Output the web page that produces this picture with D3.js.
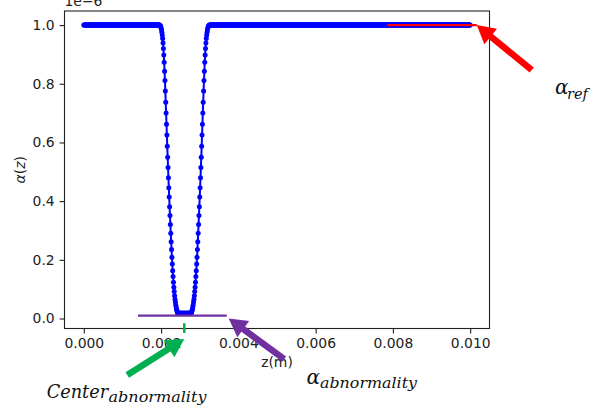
<!DOCTYPE html>
<html>
<head>
<meta charset="utf-8">
<script src="https://cdn.jsdelivr.net/npm/d3@7"></script>
<style>
  html, body { margin: 0; padding: 0; background: #fff; }
  svg { display: block; }
</style>
</head>
<body>
<svg id="chart" width="592" height="414"></svg>
<script>
// alpha(z) sampled every 10 µm from z = 0 to 0.01 m, values in units of 1e-6
const zStep = 1e-5;
const zMax = 0.01;
const refLevel = 1.0;
const leadingPlateauCount = 197;
const leftWall = [0.999, 0.9975, 0.9945, 0.990, 0.984, 0.976, 0.966, 0.954, 0.939, 0.920,
                  0.898, 0.873, 0.843, 0.811, 0.775, 0.737, 0.700, 0.662, 0.625, 0.587,
                  0.550, 0.515, 0.480, 0.446, 0.414, 0.381, 0.351, 0.320, 0.291, 0.262,
                  0.235, 0.209, 0.186, 0.163, 0.143, 0.124, 0.107, 0.092, 0.078, 0.066,
                  0.056, 0.046, 0.039, 0.032, 0.027, 0.022];
const floorCount = 36;
const floorLevel = 0.018;
const rightWall = [0.022, 0.027, 0.032, 0.039, 0.046, 0.056, 0.066, 0.078, 0.092, 0.107,
                   0.124, 0.143, 0.163, 0.186, 0.209, 0.235, 0.262, 0.291, 0.320, 0.351,
                   0.381, 0.414, 0.446, 0.480, 0.515, 0.550, 0.587, 0.625, 0.662, 0.700,
                   0.737, 0.775, 0.811, 0.843, 0.873, 0.898, 0.920, 0.939, 0.954, 0.966,
                   0.976, 0.984, 0.990, 0.9945, 0.9975, 0.999];

// reference level segment, abnormality level segment and abnormality centre
const refSegment = [0.00786, 0.01017];
const abnormalityLevel = 0.01;
const abnormalitySegment = [0.0014, 0.0037];
const centerZ = 0.0026;

const xTicks = [0, 0.002, 0.004, 0.006, 0.008, 0.010];
const yTicks = [0, 0.2, 0.4, 0.6, 0.8, 1.0];
const xDomain = [-0.0005, 0.0105];
const yDomain = [-0.034, 1.048];

// assemble the sampled series
const alpha = [];
for (let i = 0; i < leadingPlateauCount; i++) alpha.push(refLevel);
leftWall.forEach(v => alpha.push(v));
for (let i = 0; i < floorCount; i++) alpha.push(floorLevel);
rightWall.forEach(v => alpha.push(v));
while ((alpha.length) * zStep <= zMax + zStep / 2) alpha.push(refLevel);
const points = alpha.map((a, i) => ({ z: i * zStep, a }));

const svg = d3.select("#chart");
const plot = { left: 64.5, right: 489.5, top: 11, bottom: 328.5 };

const x = d3.scaleLinear().domain(xDomain).range([plot.left, plot.right]);
const y = d3.scaleLinear().domain(yDomain).range([plot.bottom, plot.top]);

const tickFont = "DejaVu Sans, sans-serif";
const tickSize = 13.9;

// axes
const xAxis = d3.axisBottom(x).tickValues(xTicks).tickFormat(d3.format(".3f"))
  .tickSize(4.9).tickPadding(4.9).tickSizeOuter(0);
const yAxis = d3.axisLeft(y).tickValues(yTicks).tickFormat(d3.format(".1f"))
  .tickSize(4.9).tickPadding(4.9).tickSizeOuter(0);

const gx = svg.append("g").attr("transform", `translate(0,${plot.bottom})`).call(xAxis);
const gy = svg.append("g").attr("transform", `translate(${plot.left},0)`).call(yAxis);
[gx, gy].forEach(g => {
  g.select(".domain").remove();
  g.selectAll(".tick line").attr("stroke", "#222").attr("stroke-width", 1.1);
  g.selectAll(".tick text").attr("fill", "#222")
    .style("font-family", tickFont).style("font-size", tickSize + "px");
});

// frame
svg.append("rect")
  .attr("x", plot.left).attr("y", plot.top)
  .attr("width", plot.right - plot.left).attr("height", plot.bottom - plot.top)
  .attr("fill", "none").attr("stroke", "#222").attr("stroke-width", 1.1);

// offset text
svg.append("text").attr("x", plot.left).attr("y", 6)
  .style("font-family", tickFont).style("font-size", tickSize + "px").attr("fill", "#222")
  .text("1e\u22126");

// axis labels
svg.append("text")
  .attr("x", (plot.left + plot.right) / 2).attr("y", 367)
  .attr("text-anchor", "middle").attr("fill", "#222")
  .style("font-family", tickFont).style("font-size", tickSize + "px")
  .text("z(m)");

const yl = svg.append("text")
  .attr("transform", `translate(25,${(plot.top + plot.bottom) / 2}) rotate(-90)`)
  .attr("text-anchor", "middle").attr("fill", "#222")
  .style("font-family", tickFont).style("font-size", tickSize + "px");
yl.append("tspan").style("font-style", "italic").text("\u03b1");
yl.append("tspan").text("(");
yl.append("tspan").style("font-style", "italic").text("z");
yl.append("tspan").text(")");

// alpha(z) curve
const line = d3.line().x(d => x(d.z)).y(d => y(d.a));
svg.append("path").datum(points)
  .attr("d", line).attr("fill", "none").attr("stroke", "#0000ff").attr("stroke-width", 2);
svg.append("g").selectAll("circle").data(points).join("circle")
  .attr("cx", d => x(d.z)).attr("cy", d => y(d.a)).attr("r", 2.5).attr("fill", "#0000ff");

// reference level
svg.append("line")
  .attr("x1", x(refSegment[0])).attr("x2", x(refSegment[1]))
  .attr("y1", y(refLevel)).attr("y2", y(refLevel))
  .attr("stroke", "#ff0000").attr("stroke-width", 2.2);

// abnormality level
svg.append("line")
  .attr("x1", x(abnormalitySegment[0])).attr("x2", x(abnormalitySegment[1]))
  .attr("y1", y(abnormalityLevel)).attr("y2", y(abnormalityLevel))
  .attr("stroke", "#7030a0").attr("stroke-width", 2.2);

// abnormality centre mark
svg.append("line")
  .attr("x1", x(centerZ)).attr("x2", x(centerZ))
  .attr("y1", y(-0.016)).attr("y2", y(-0.049))
  .attr("stroke", "#00b050").attr("stroke-width", 2.5);

// annotation arrows
function arrow(tip, tail, color) {
  const dx = tip[0] - tail[0], dy = tip[1] - tail[1];
  const len = Math.hypot(dx, dy);
  const ux = dx / len, uy = dy / len;
  const headLen = 18, headHalf = 10, shaft = 6.5;
  const bx = tip[0] - ux * headLen, by = tip[1] - uy * headLen;
  svg.append("line")
    .attr("x1", tail[0]).attr("y1", tail[1])
    .attr("x2", bx + ux * 2).attr("y2", by + uy * 2)
    .attr("stroke", color).attr("stroke-width", shaft);
  const nx = -uy, ny = ux;
  svg.append("polygon")
    .attr("points", [
      [tip[0], tip[1]],
      [bx + nx * headHalf, by + ny * headHalf],
      [bx - nx * headHalf, by - ny * headHalf]
    ].map(p => p.join(",")).join(" "))
    .attr("fill", color);
}

const redTip = [x(refSegment[1]), y(refLevel)];
arrow(redTip, [redTip[0] + 55, redTip[1] + 45], "#ff0000");

const greenTip = [x(centerZ), y(-0.07)];
arrow(greenTip, [greenTip[0] - 57, greenTip[1] + 36], "#00b050");

const purpleTip = [x(0.00375), y(0)];
arrow(purpleTip, [purpleTip[0] + 55.5, purpleTip[1] + 40.5], "#7030a0");

// annotation labels
const labelFont = "DejaVu Serif, serif";
function label(mainText, subText, mx, mBase, mSize, mLen, sx, sBase, sSize, sLen) {
  const t = svg.append("text").attr("fill", "#111")
    .style("font-family", labelFont).style("font-style", "italic");
  const m = t.append("tspan").attr("x", mx).attr("y", mBase)
    .style("font-size", mSize + "px").text(mainText);
  if (mLen) m.attr("textLength", mLen).attr("lengthAdjust", "spacingAndGlyphs");
  t.append("tspan").attr("x", sx).attr("y", sBase)
    .style("font-size", sSize + "px").text(subText)
    .attr("textLength", sLen).attr("lengthAdjust", "spacingAndGlyphs");
}

label("\u03b1", "ref", 555, 94, 20, null, 567, 98.5, 15, 21);
label("Center", "abnormality", 46.7, 397.7, 19, 61.5, 108.5, 401.7, 15, 98);
label("\u03b1", "abnormality", 306.5, 384.3, 20, null, 320, 388.3, 15, 97);
</script>
</body>
</html>
